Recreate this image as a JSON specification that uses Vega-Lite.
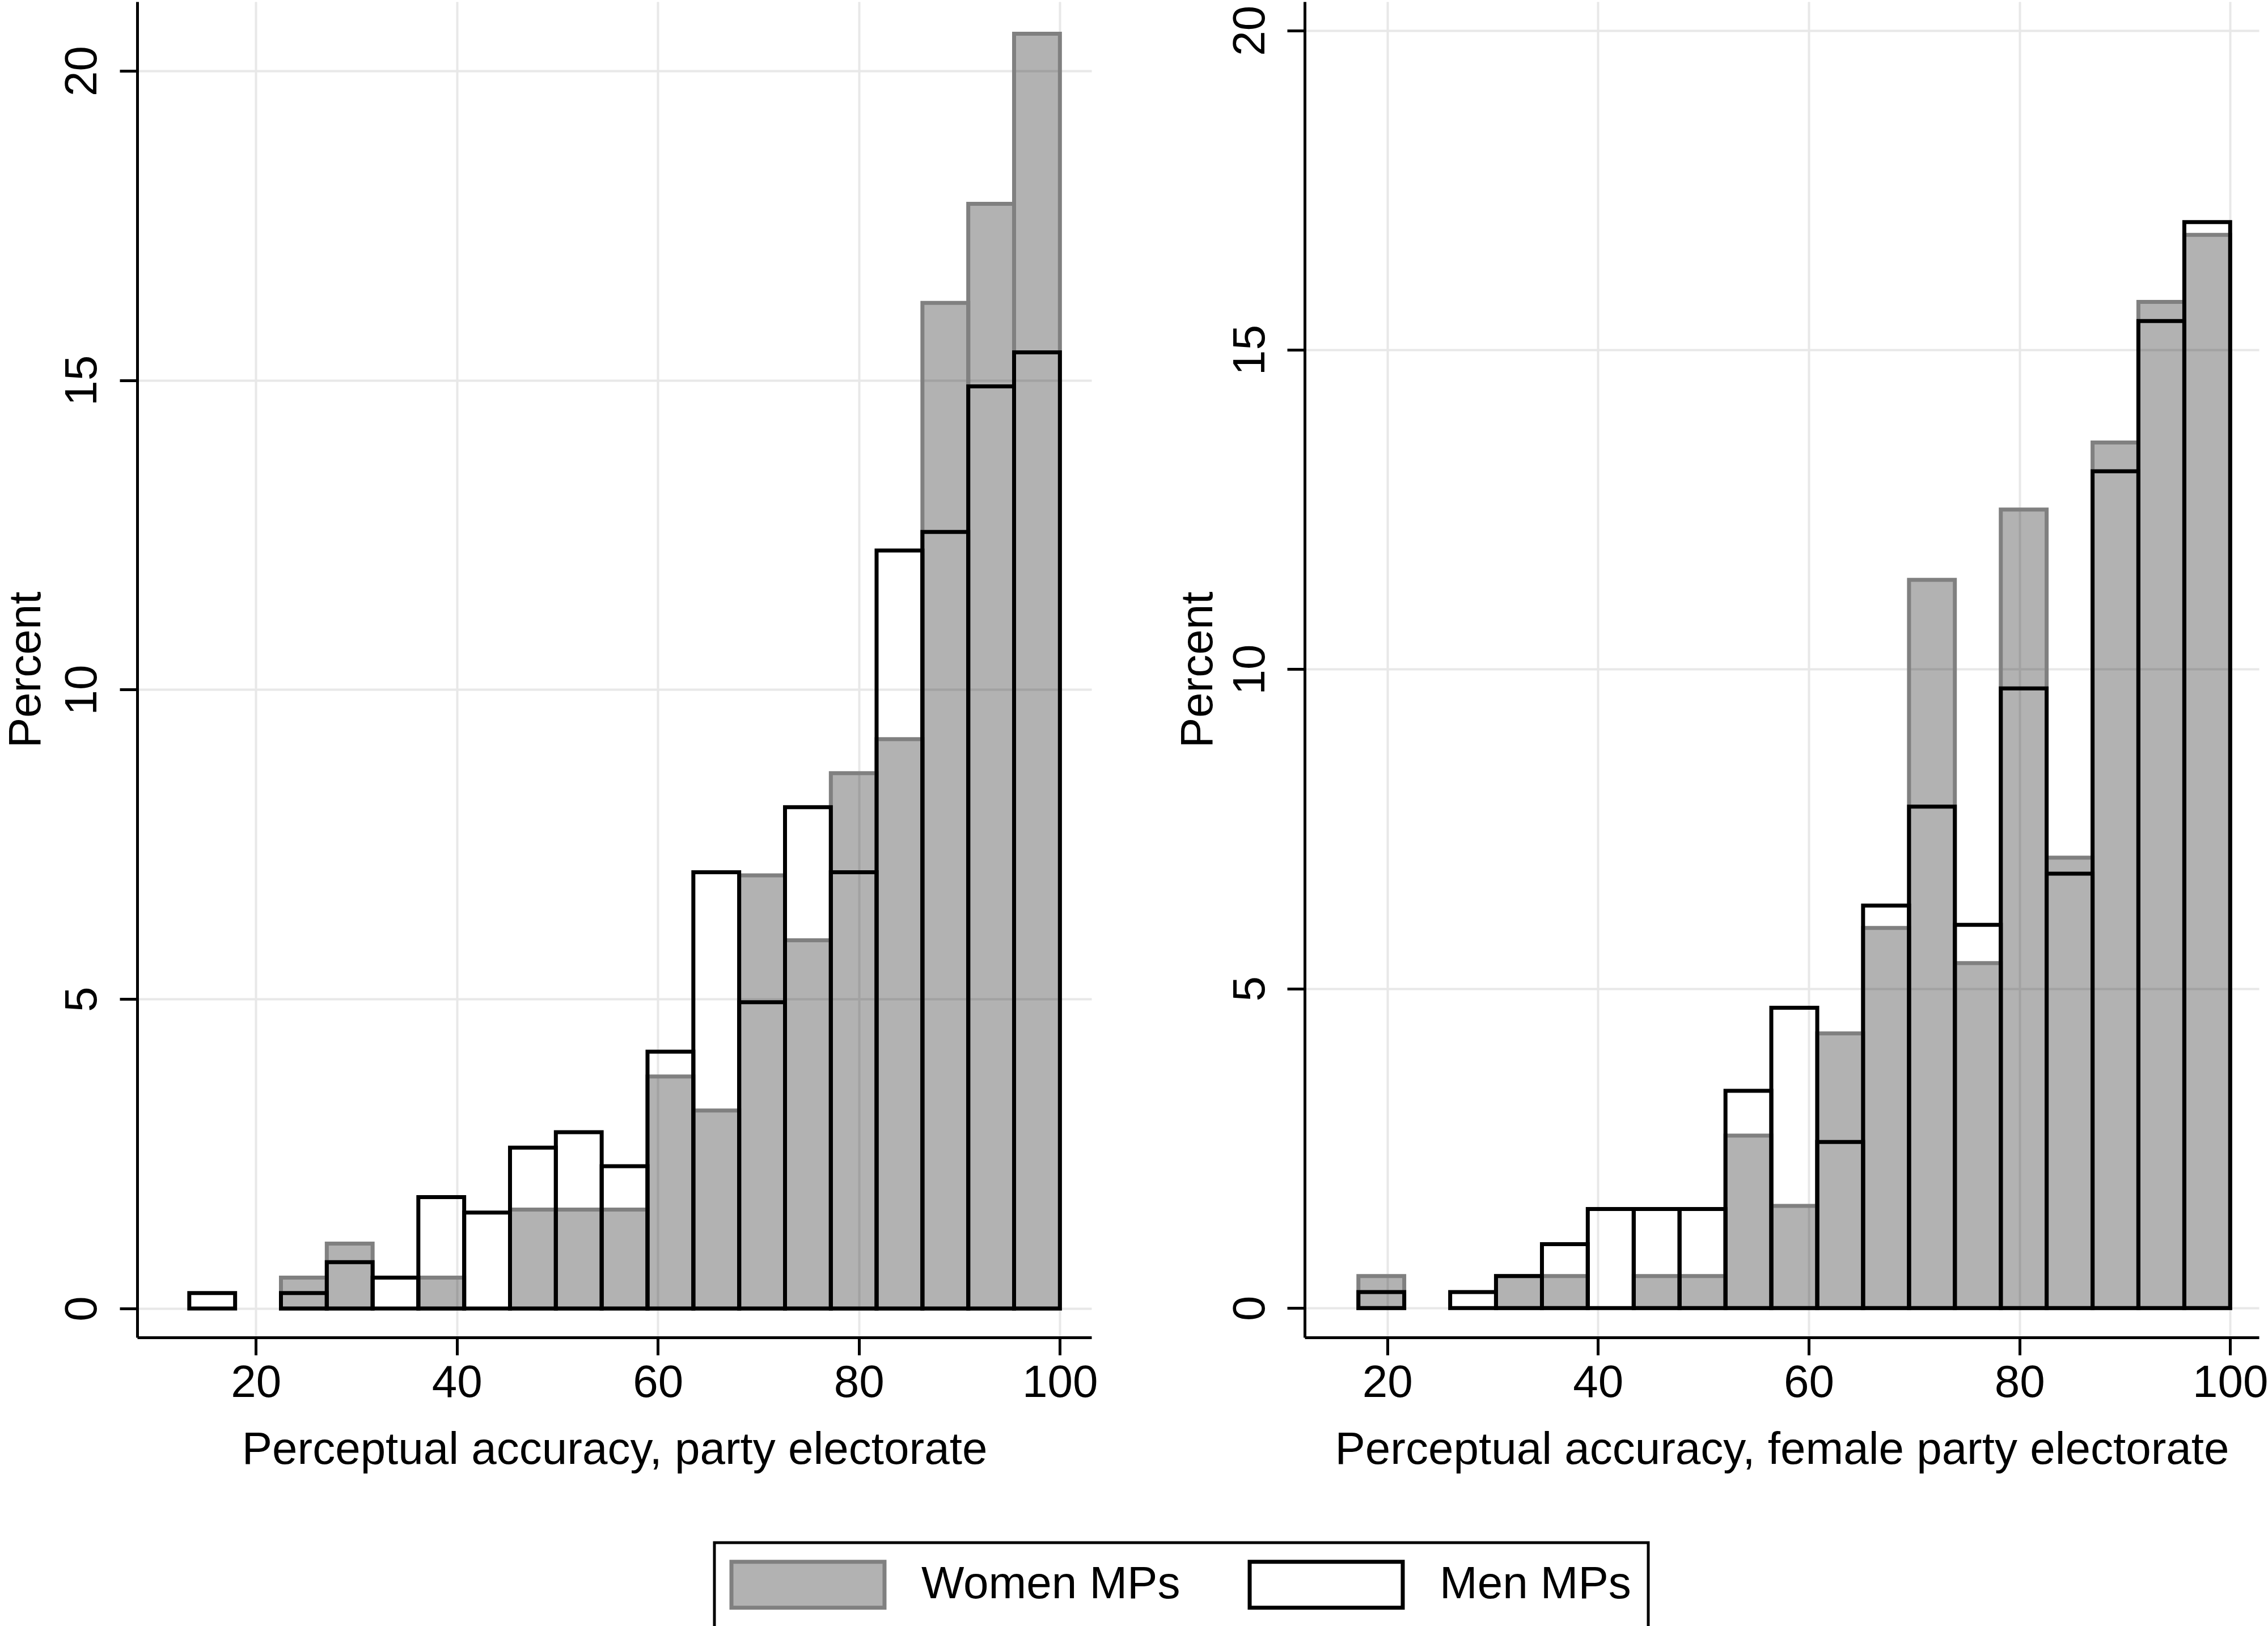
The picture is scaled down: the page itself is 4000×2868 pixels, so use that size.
{
  "$schema": "https://vega.github.io/schema/vega-lite/v6.json",
  "background": "white",
  "padding": {"left": 6, "top": 3, "right": 17, "bottom": 2},
  "config": {
    "font": "Liberation Sans",
    "view": {"stroke": null},
    "axis": {
      "domainColor": "black", "domainWidth": 5,
      "tickColor": "black", "tickWidth": 5, "tickSize": 31,
      "labelFontSize": 80, "labelColor": "black", "labelFont": "Liberation Sans",
      "titleFontSize": 80, "titleFontWeight": "normal", "titleColor": "black", "titleFont": "Liberation Sans",
      "gridColor": "#e8e8e8", "gridWidth": 4,
      "labelOverlap": false, "labelFlush": false
    },
    "axisX": {"labelPadding": 10, "titlePadding": 102, "titleBaseline": "alphabetic", "labelAngle": 0},
    "axisY": {"labelAngle": 270, "labelAlign": "center", "labelBaseline": "alphabetic", "titleBaseline": "alphabetic", "titleAngle": 270}
  },
  "datasets": {
    "bars": [
      {"p": "party", "g": "Women MPs", "x0": 22.50, "x1": 27.06, "v": 0.5},
      {"p": "party", "g": "Women MPs", "x0": 27.06, "x1": 31.62, "v": 1.05},
      {"p": "party", "g": "Women MPs", "x0": 36.17, "x1": 40.73, "v": 0.5},
      {"p": "party", "g": "Women MPs", "x0": 45.29, "x1": 49.85, "v": 1.6},
      {"p": "party", "g": "Women MPs", "x0": 49.85, "x1": 54.41, "v": 1.6},
      {"p": "party", "g": "Women MPs", "x0": 54.41, "x1": 58.97, "v": 1.6},
      {"p": "party", "g": "Women MPs", "x0": 58.97, "x1": 63.53, "v": 3.75},
      {"p": "party", "g": "Women MPs", "x0": 63.53, "x1": 68.09, "v": 3.2},
      {"p": "party", "g": "Women MPs", "x0": 68.09, "x1": 72.65, "v": 7.0},
      {"p": "party", "g": "Women MPs", "x0": 72.65, "x1": 77.21, "v": 5.95},
      {"p": "party", "g": "Women MPs", "x0": 77.21, "x1": 81.76, "v": 8.65},
      {"p": "party", "g": "Women MPs", "x0": 81.76, "x1": 86.32, "v": 9.2},
      {"p": "party", "g": "Women MPs", "x0": 86.32, "x1": 90.88, "v": 16.25},
      {"p": "party", "g": "Women MPs", "x0": 90.88, "x1": 95.44, "v": 17.85},
      {"p": "party", "g": "Women MPs", "x0": 95.44, "x1": 100.0, "v": 20.6},
      {"p": "party", "g": "Men MPs", "x0": 13.38, "x1": 17.94, "v": 0.25},
      {"p": "party", "g": "Men MPs", "x0": 22.50, "x1": 27.06, "v": 0.25},
      {"p": "party", "g": "Men MPs", "x0": 27.06, "x1": 31.62, "v": 0.75},
      {"p": "party", "g": "Men MPs", "x0": 31.62, "x1": 36.17, "v": 0.5},
      {"p": "party", "g": "Men MPs", "x0": 36.17, "x1": 40.73, "v": 1.8},
      {"p": "party", "g": "Men MPs", "x0": 40.73, "x1": 45.29, "v": 1.55},
      {"p": "party", "g": "Men MPs", "x0": 45.29, "x1": 49.85, "v": 2.6},
      {"p": "party", "g": "Men MPs", "x0": 49.85, "x1": 54.41, "v": 2.85},
      {"p": "party", "g": "Men MPs", "x0": 54.41, "x1": 58.97, "v": 2.3},
      {"p": "party", "g": "Men MPs", "x0": 58.97, "x1": 63.53, "v": 4.15},
      {"p": "party", "g": "Men MPs", "x0": 63.53, "x1": 68.09, "v": 7.05},
      {"p": "party", "g": "Men MPs", "x0": 68.09, "x1": 72.65, "v": 4.95},
      {"p": "party", "g": "Men MPs", "x0": 72.65, "x1": 77.21, "v": 8.1},
      {"p": "party", "g": "Men MPs", "x0": 77.21, "x1": 81.76, "v": 7.05},
      {"p": "party", "g": "Men MPs", "x0": 81.76, "x1": 86.32, "v": 12.25},
      {"p": "party", "g": "Men MPs", "x0": 86.32, "x1": 90.88, "v": 12.55},
      {"p": "party", "g": "Men MPs", "x0": 90.88, "x1": 95.44, "v": 14.9},
      {"p": "party", "g": "Men MPs", "x0": 95.44, "x1": 100.0, "v": 15.45},
      {"p": "female", "g": "Women MPs", "x0": 17.26, "x1": 21.61, "v": 0.5},
      {"p": "female", "g": "Women MPs", "x0": 30.32, "x1": 34.68, "v": 0.5},
      {"p": "female", "g": "Women MPs", "x0": 34.68, "x1": 39.03, "v": 0.5},
      {"p": "female", "g": "Women MPs", "x0": 43.39, "x1": 47.74, "v": 0.5},
      {"p": "female", "g": "Women MPs", "x0": 47.74, "x1": 52.10, "v": 0.5},
      {"p": "female", "g": "Women MPs", "x0": 52.10, "x1": 56.45, "v": 2.7},
      {"p": "female", "g": "Women MPs", "x0": 56.45, "x1": 60.81, "v": 1.6},
      {"p": "female", "g": "Women MPs", "x0": 60.81, "x1": 65.16, "v": 4.3},
      {"p": "female", "g": "Women MPs", "x0": 65.16, "x1": 69.52, "v": 5.95},
      {"p": "female", "g": "Women MPs", "x0": 69.52, "x1": 73.87, "v": 11.4},
      {"p": "female", "g": "Women MPs", "x0": 73.87, "x1": 78.23, "v": 5.4},
      {"p": "female", "g": "Women MPs", "x0": 78.23, "x1": 82.58, "v": 12.5},
      {"p": "female", "g": "Women MPs", "x0": 82.58, "x1": 86.94, "v": 7.05},
      {"p": "female", "g": "Women MPs", "x0": 86.94, "x1": 91.29, "v": 13.55},
      {"p": "female", "g": "Women MPs", "x0": 91.29, "x1": 95.65, "v": 15.75},
      {"p": "female", "g": "Women MPs", "x0": 95.65, "x1": 100.0, "v": 16.8},
      {"p": "female", "g": "Men MPs", "x0": 17.26, "x1": 21.61, "v": 0.25},
      {"p": "female", "g": "Men MPs", "x0": 25.97, "x1": 30.32, "v": 0.25},
      {"p": "female", "g": "Men MPs", "x0": 30.32, "x1": 34.68, "v": 0.5},
      {"p": "female", "g": "Men MPs", "x0": 34.68, "x1": 39.03, "v": 1.0},
      {"p": "female", "g": "Men MPs", "x0": 39.03, "x1": 43.39, "v": 1.55},
      {"p": "female", "g": "Men MPs", "x0": 43.39, "x1": 47.74, "v": 1.55},
      {"p": "female", "g": "Men MPs", "x0": 47.74, "x1": 52.10, "v": 1.55},
      {"p": "female", "g": "Men MPs", "x0": 52.10, "x1": 56.45, "v": 3.4},
      {"p": "female", "g": "Men MPs", "x0": 56.45, "x1": 60.81, "v": 4.7},
      {"p": "female", "g": "Men MPs", "x0": 60.81, "x1": 65.16, "v": 2.6},
      {"p": "female", "g": "Men MPs", "x0": 65.16, "x1": 69.52, "v": 6.3},
      {"p": "female", "g": "Men MPs", "x0": 69.52, "x1": 73.87, "v": 7.85},
      {"p": "female", "g": "Men MPs", "x0": 73.87, "x1": 78.23, "v": 6.0},
      {"p": "female", "g": "Men MPs", "x0": 78.23, "x1": 82.58, "v": 9.7},
      {"p": "female", "g": "Men MPs", "x0": 82.58, "x1": 86.94, "v": 6.8},
      {"p": "female", "g": "Men MPs", "x0": 86.94, "x1": 91.29, "v": 13.1},
      {"p": "female", "g": "Men MPs", "x0": 91.29, "x1": 95.65, "v": 15.45},
      {"p": "female", "g": "Men MPs", "x0": 95.65, "x1": 100.0, "v": 17.0}
    ]
  },
  "spacing": 376,
  "bounds": "flush",
  "resolve": {"scale": {"x": "independent", "y": "independent", "fill": "shared", "stroke": "shared"}},
  "hconcat": [
    {
      "width": 1683,
      "height": 2356,
      "data": {"name": "bars"},
      "transform": [{"filter": "datum.p == 'party'"}],
      "encoding": {
        "x": {"field": "x0", "type": "quantitative",
              "scale": {"domain": [8.2, 103.14], "nice": false, "zero": false},
              "axis": {"title": "Perceptual accuracy, party electorate", "values": [20, 40, 60, 80, 100], "grid": true}},
        "x2": {"field": "x1"},
        "y": {"field": "v", "type": "quantitative",
              "scale": {"domain": [-0.467, 21.117], "nice": false, "zero": false},
              "axis": {"title": "Percent", "values": [0, 5, 10, 15, 20], "grid": true, "labelPadding": 42, "titlePadding": 35}},
        "y2": {"datum": 0},
        "fill": {"field": "g", "type": "nominal",
                 "scale": {"domain": ["Women MPs", "Men MPs"], "range": ["rgba(0,0,0,0.3)", "rgba(0,0,0,0)"]},
                 "legend": {"orient": "none", "legendX": 1018, "legendY": 2718, "direction": "horizontal", "title": null,
                            "symbolType": "M-3.333,-1H3.333V1H-3.333Z", "symbolSize": 6561, "symbolStrokeWidth": 7,
                            "symbolOffset": 91, "labelLimit": 0,
                            "labelFontSize": 80, "labelOffset": 156, "columnPadding": 108, "padding": 30,
                            "strokeColor": "black", "labelColor": "black", "labelFont": "Liberation Sans",
                            "encode": {"legend": {"update": {"strokeWidth": {"value": 5}}}}}},
        "stroke": {"field": "g", "type": "nominal",
                   "scale": {"domain": ["Women MPs", "Men MPs"], "range": ["#808080", "#000000"]},
                   "legend": {"orient": "none", "legendX": 1018, "legendY": 2718, "direction": "horizontal", "title": null,
                            "symbolType": "M-3.333,-1H3.333V1H-3.333Z", "symbolSize": 6561, "symbolStrokeWidth": 7,
                            "symbolOffset": 91, "labelLimit": 0,
                            "labelFontSize": 80, "labelOffset": 156, "columnPadding": 108, "padding": 30,
                            "strokeColor": "black", "labelColor": "black", "labelFont": "Liberation Sans",
                            "encode": {"legend": {"update": {"strokeWidth": {"value": 5}}}}}}
      },
      "layer": [
        {"transform": [{"filter": "datum.g == 'Women MPs'"}], "mark": {"type": "bar", "strokeWidth": 7}},
        {"transform": [{"filter": "datum.g == 'Men MPs'"}], "mark": {"type": "bar", "strokeWidth": 7}}
      ]
    },
    {
      "width": 1683,
      "height": 2356,
      "data": {"name": "bars"},
      "transform": [{"filter": "datum.p == 'female'"}],
      "encoding": {
        "x": {"field": "x0", "type": "quantitative",
              "scale": {"domain": [12.16, 102.73], "nice": false, "zero": false},
              "axis": {"title": "Perceptual accuracy, female party electorate", "values": [20, 40, 60, 80, 100], "grid": true}},
        "x2": {"field": "x1"},
        "y": {"field": "v", "type": "quantitative",
              "scale": {"domain": [-0.46, 20.45], "nice": false, "zero": false},
              "axis": {"title": "Percent", "values": [0, 5, 10, 15, 20], "grid": true, "labelPadding": 41, "titlePadding": 28}},
        "y2": {"datum": 0},
        "fill": {"field": "g", "type": "nominal"},
        "stroke": {"field": "g", "type": "nominal"}
      },
      "layer": [
        {"transform": [{"filter": "datum.g == 'Women MPs'"}], "mark": {"type": "bar", "strokeWidth": 7}},
        {"transform": [{"filter": "datum.g == 'Men MPs'"}], "mark": {"type": "bar", "strokeWidth": 7}}
      ]
    }
  ]
}
